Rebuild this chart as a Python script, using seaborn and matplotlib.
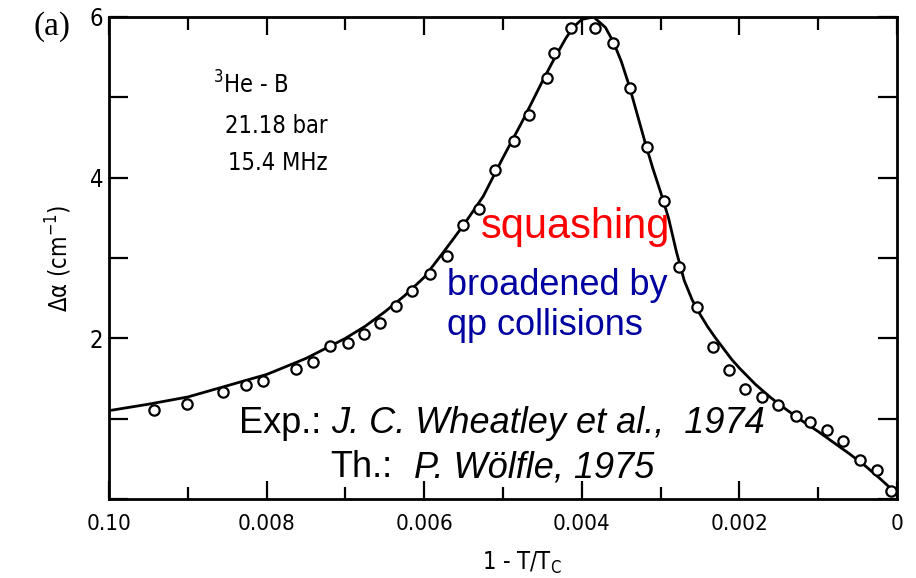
import matplotlib
matplotlib.use("Agg")
import matplotlib.pyplot as plt
import matplotlib.font_manager as fm
import seaborn as sns
import pandas as pd
from matplotlib.ticker import FixedLocator, FixedFormatter

# ---- data ----
# experiment (open circles): 1 - T/Tc and attenuation change (cm^-1)
exp_x = [0.009435, 0.009007, 0.008555, 0.008258, 0.008047, 0.007625, 0.007412,
         0.007200, 0.006971, 0.006764, 0.006559, 0.006353, 0.006160, 0.005921,
         0.005710, 0.005511, 0.005302, 0.005098, 0.004863, 0.004667, 0.004438,
         0.004356, 0.004143, 0.003829, 0.003606, 0.003390, 0.003175, 0.002963,
         0.002766, 0.002544, 0.002337, 0.002130, 0.001930, 0.001718, 0.001507,
         0.001279, 0.001109, 0.000893, 0.000682, 0.000474, 0.000258, 0.000072]
exp_y = [1.114, 1.180, 1.330, 1.416, 1.466, 1.624, 1.706,
         1.901, 1.942, 2.053, 2.193, 2.404, 2.590, 2.804,
         3.027, 3.416, 3.606, 4.091, 4.460, 4.783, 5.242,
         5.557, 5.867, 5.857, 5.681, 5.118, 4.376, 3.711,
         2.886, 2.389, 1.888, 1.606, 1.369, 1.267, 1.164,
         1.031, 0.957, 0.857, 0.717, 0.484, 0.364, 0.096]

# theory (solid curve)
th_x = [0.0100, 0.0095, 0.0090, 0.0085, 0.0080, 0.0075, 0.0070, 0.00675,
        0.0065, 0.00625, 0.0060, 0.00575, 0.0055, 0.00525, 0.0050, 0.00475,
        0.0045, 0.00435, 0.0042, 0.0041, 0.0040, 0.00385, 0.0037, 0.0036,
        0.0035, 0.0034, 0.0033, 0.0032, 0.0031, 0.0030, 0.0029, 0.0028,
        0.0027, 0.0026, 0.0025, 0.0024, 0.0023, 0.0022, 0.0021, 0.0020,
        0.0018, 0.0016, 0.0014, 0.0012, 0.0010, 0.0008, 0.0006, 0.0004,
        0.0002, 0.0]
th_y = [1.10, 1.18, 1.27, 1.41, 1.55, 1.75, 2.00, 2.15,
        2.33, 2.53, 2.76, 3.08, 3.41, 3.77, 4.25, 4.71,
        5.20, 5.48, 5.74, 5.88, 5.97, 6.00, 5.87, 5.69,
        5.45, 5.15, 4.80, 4.45, 4.12, 3.82, 3.50, 3.08,
        2.72, 2.48, 2.30, 2.14, 2.00, 1.87, 1.74, 1.63,
        1.43, 1.26, 1.11, 0.97, 0.84, 0.70, 0.56, 0.41,
        0.24, 0.06]

x_ticks = [0.010, 0.008, 0.006, 0.004, 0.002, 0.0]
x_ticklabels = ["0.10", "0.008", "0.006", "0.004", "0.002", "0"]
x_minor = [0.009, 0.007, 0.005, 0.003, 0.001]
y_ticks = [0, 1, 2, 3, 4, 5, 6]
y_ticklabels = ["", "", "2", "", "4", "", "6"]

exp_df = pd.DataFrame({"x": exp_x, "y": exp_y})
th_df = pd.DataFrame({"x": th_x, "y": th_y})

# ---- style ----
sns.set_style("ticks")

# pick a condensed sans font if one is installed
entries = fm.fontManager.ttflist
names = {f.name for f in entries}
narrow_stretch = "normal"
if "Liberation Sans Narrow" in names:
    narrow = ["Liberation Sans Narrow", "DejaVu Sans"]
elif any(f.name == "DejaVu Sans" and str(f.stretch) in ("condensed", "semi-condensed")
         for f in entries):
    narrow = ["DejaVu Sans"]
    narrow_stretch = "condensed"
else:
    narrow = ["Liberation Sans", "DejaVu Sans"]

plt.rcParams["font.family"] = narrow
plt.rcParams["font.stretch"] = narrow_stretch
for k in ("text.color", "axes.labelcolor", "xtick.color", "ytick.color",
          "xtick.labelcolor", "ytick.labelcolor"):
    plt.rcParams[k] = "black"

fig = plt.figure(figsize=(9.16, 5.78), dpi=100)
ax = fig.add_axes([109 / 916, 79 / 578, 788 / 916, 482 / 578])

sns.lineplot(data=th_df, x="x", y="y", ax=ax, color="black", lw=2.0, zorder=2)
sns.scatterplot(data=exp_df, x="x", y="y", ax=ax, marker="o", s=55,
                facecolor="white", edgecolor="black", linewidth=1.6, zorder=3)

ax.set_xlim(0.010, 0.0)
ax.set_ylim(0, 6)

ax.xaxis.set_major_locator(FixedLocator(x_ticks))
ax.xaxis.set_major_formatter(FixedFormatter(x_ticklabels))
ax.xaxis.set_minor_locator(FixedLocator(x_minor))
ax.yaxis.set_major_locator(FixedLocator(y_ticks))
ax.yaxis.set_major_formatter(FixedFormatter(y_ticklabels))

for s in ax.spines.values():
    s.set_linewidth(2.0)
    s.set_color("black")

ax.tick_params(axis="both", which="both", direction="in", top=True, right=True,
               width=1.6, color="black")
ax.tick_params(axis="x", which="major", length=13, pad=11, labelsize=16)
ax.tick_params(axis="x", which="minor", length=9)
ax.tick_params(axis="y", which="major", length=14, pad=4, labelsize=17)

ax.set_xlabel("1 - T/T$_\\mathrm{C}$", fontsize=17)
ax.xaxis.set_label_coords(0.524, -0.105)
ax.set_ylabel("Δα (cm$^{-1}$)", fontsize=17)
ax.yaxis.set_label_coords(-0.045, 0.5)

# panel label
fig.text(52 / 916, 1 - 27 / 578, "(a)", fontsize=24, family="Liberation Serif",
         ha="center", va="center", color="black")

# condition annotations
ax.text(0.132, 0.842, "$^{3}$He - B", transform=ax.transAxes, fontsize=17,
        ha="left", va="baseline")
ax.text(0.147, 0.759, "21.18 bar", transform=ax.transAxes, fontsize=17,
        ha="left", va="baseline")
ax.text(0.151, 0.683, "15.4 MHz", transform=ax.transAxes, fontsize=17,
        ha="left", va="baseline")

arial = ["Liberation Sans", "DejaVu Sans"]
ax.text(0.472, 0.5415, "squashing", transform=ax.transAxes, fontsize=30,
        family=arial, stretch="normal", color="#FF0000", ha="left", va="baseline")
ax.text(0.429, 0.423, "broadened by", transform=ax.transAxes, fontsize=26,
        family=arial, stretch="normal", color="#0000A0", ha="left", va="baseline")
ax.text(0.429, 0.340, "qp collisions", transform=ax.transAxes, fontsize=26,
        family=arial, stretch="normal", color="#0000A0", ha="left", va="baseline")

t1 = ax.text(0.165, 0.137, "Exp.:", transform=ax.transAxes, fontsize=26,
             family=arial, stretch="normal", color="black", ha="left", va="baseline")
ax.annotate("J. C. Wheatley et al.,  1974", xy=(1, 0), xycoords=t1,
            xytext=(7, 0), textcoords="offset points", fontsize=26,
            family=arial, stretch="normal", style="italic", color="black",
            ha="left", va="bottom")
t2 = ax.text(0.2805, 0.0456, "Th.:", transform=ax.transAxes, fontsize=26,
             family=arial, stretch="normal", color="black", ha="left", va="baseline")
ax.annotate("P. Wölfle, 1975", xy=(1, 0), xycoords=t2,
            xytext=(16, 0), textcoords="offset points", fontsize=26,
            family=arial, stretch="normal", style="italic", color="black",
            ha="left", va="bottom")

fig.savefig("out.png", dpi=100)
